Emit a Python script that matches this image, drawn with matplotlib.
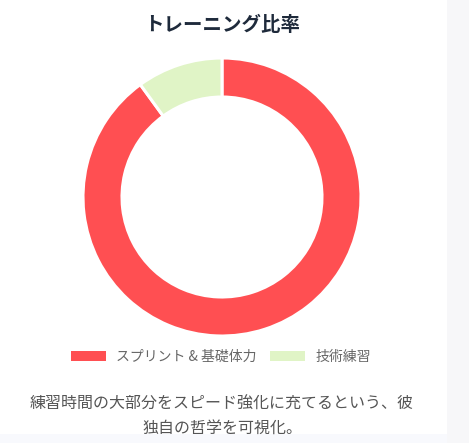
import matplotlib.pyplot as plt
from matplotlib.patches import Rectangle

plt.rcParams['font.family'] = ['Noto Sans CJK JP', 'DejaVu Sans']

# データ
labels = ["スプリント & 基礎体力", "技術練習"]
values = [90, 10]
colors = ["#ff4f52", "#e0f4c6"]

title = "トレーニング比率"
caption = "練習時間の大部分をスピード強化に充てるという、彼\n独自の哲学を可視化。"

W, H = 469, 443
fig = plt.figure(figsize=(W / 100, H / 100), dpi=100)
fig.patch.set_facecolor("white")

# 右と下の背景
fig.patches.append(Rectangle((447 / W, 0), 1, 1, transform=fig.transFigure,
                             facecolor="#f7f7f9", edgecolor="none", zorder=0))
fig.patches.append(Rectangle((0, 0), 447 / W, 1 - 434 / H, transform=fig.transFigure,
                             facecolor="#f8f9fd", edgecolor="none", zorder=0))

# ドーナツ
cx, cy, r = 222, 197, 140
ax = fig.add_axes([(cx - r) / W, (H - cy - r) / H, 2 * r / W, 2 * r / H])
wedges, _ = ax.pie(values, colors=colors, startangle=90, counterclock=False,
                   radius=139 / 140,
                   wedgeprops=dict(width=39 / 140, edgecolor="white", linewidth=2.2))
ax.set_xlim(-1, 1)
ax.set_ylim(-1, 1)
ax.set_aspect("equal")
ax.axis("off")

fig.text(cx / W, 1 - 25 / H, title, ha="center", va="center",
         fontsize=14, fontweight="bold", color="#1e2a3b")

for w in wedges:
    w.set_edgecolor("none")
leg = fig.legend(wedges, labels, loc="center", bbox_to_anchor=(221 / W, 1 - 357 / H),
                 ncol=2, frameon=False, fontsize=10, handlelength=2.5,
                 handleheight=0.72, handletextpad=0.72, columnspacing=1.0,
                 labelcolor="#666666")
for w in wedges:
    w.set_edgecolor("white")

fig.text(cx / W, 1 - 416 / H, caption, ha="center", va="center",
         fontsize=11.5, color="#555555", linespacing=1.55)

fig.savefig("out.png", dpi=100)
plt.close()
